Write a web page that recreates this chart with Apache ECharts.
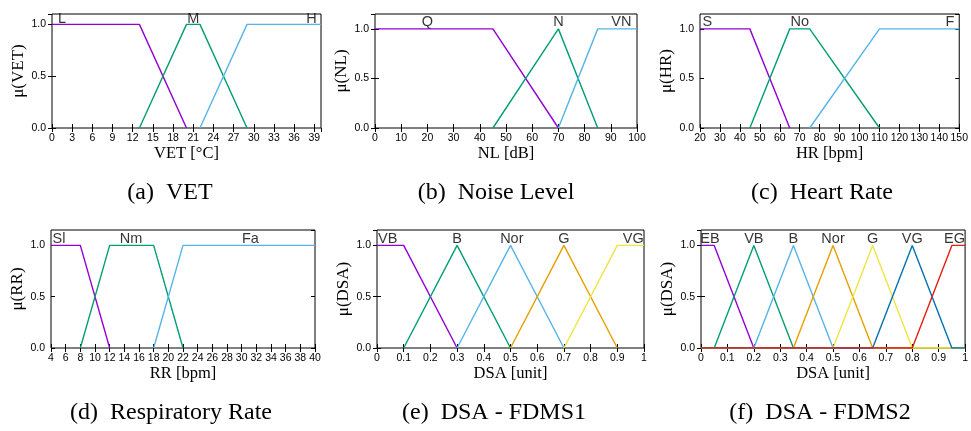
<!DOCTYPE html>
<html><head><meta charset="utf-8">
<script src="https://cdn.jsdelivr.net/npm/echarts@6/dist/echarts.min.js"></script>
<style>html,body{margin:0;padding:0;background:#fff}#c{width:971px;height:431px}</style>
</head><body><div id="c"></div>
<script>
// (a) VET
const vetL = [[0,1],[13,1],[20,0]];
const vetM = [[13,0],[20,1],[22,1],[29,0]];
const vetH = [[22,0],[29,1],[40,1]];
const vetTerms = [[1.5,1.055,'L'],[21,1.055,'M'],[38.6,1.055,'H']];
// (b) Noise Level
const nlQ = [[0,1],[45,1],[70,0]];
const nlN = [[45,0],[70,1],[85,0]];
const nlVN = [[70,0],[85,1],[100,1]];
const nlTerms = [[20,1.065,'Q'],[70,1.065,'N'],[94,1.065,'VN']];
// (c) Heart Rate
const hrS = [[20,1],[45,1],[65,0]];
const hrNo = [[45,0],[65,1],[75,1],[110,0]];
const hrF = [[75,0],[110,1],[150,1]];
const hrTerms = [[23.7,1.065,'S'],[70,1.065,'No'],[145.3,1.065,'F']];
// (d) Respiratory Rate
const rrSl = [[4,1],[8,1],[12,0]];
const rrNm = [[8,0],[12,1],[18,1],[22,0]];
const rrFa = [[18,0],[22,1],[40,1]];
const rrTerms = [[5.1,1.065,'Sl'],[14.9,1.065,'Nm'],[31.2,1.065,'Fa']];
// (e) DSA - FDMS1
const d1VB = [[0,1],[0.1,1],[0.3,0]];
const d1B = [[0.1,0],[0.3,1],[0.5,0]];
const d1Nor = [[0.3,0],[0.5,1],[0.7,0]];
const d1G = [[0.5,0],[0.7,1],[0.9,0]];
const d1VG = [[0.7,0],[0.9,1],[1,1]];
const d1Terms = [[0.04,1.065,'VB'],[0.3,1.065,'B'],[0.505,1.065,'Nor'],[0.7,1.065,'G'],[0.96,1.065,'VG']];
// (f) DSA - FDMS2
const d2EB = [[0,1],[0.05,1],[0.2,0],[1,0]];
const d2VB = [[0,0],[0.05,0],[0.2,1],[0.35,0],[1,0]];
const d2B = [[0,0],[0.2,0],[0.35,1],[0.5,0],[1,0]];
const d2Nor = [[0,0],[0.35,0],[0.5,1],[0.65,0],[1,0]];
const d2G = [[0,0],[0.5,0],[0.65,1],[0.8,0],[1,0]];
const d2VG = [[0,0],[0.65,0],[0.8,1],[0.95,0],[1,0]];
const d2EG = [[0,0],[0.8,0],[0.95,1],[1,1]];
const d2Terms = [[0.034,1.065,'EB'],[0.2,1.065,'VB'],[0.35,1.065,'B'],[0.5,1.065,'Nor'],[0.65,1.065,'G'],[0.8,1.065,'VG'],[0.96,1.065,'EG']];

const C = {purple:'#9400D3', green:'#009E73', sky:'#56B4E9', orange:'#E69F00', yellow:'#F0E442', blue:'#0072B2', red:'#E51E10'};

const panels = [
 {grid:{left:52,top:14,width:269,height:114}, xmin:0,xmax:40,xint:3,showMax:false, ymax:1.1, xname:'VET [°C]', yname:'μ(VET)', caption:'(a)  VET', cap:[170,193],
  series:[[vetL,C.purple],[vetM,C.green],[vetH,C.sky]], terms:vetTerms},
 {grid:{left:375,top:14,width:262,height:114}, xmin:0,xmax:100,xint:10,showMax:true, ymax:1.15, xname:'NL [dB]', yname:'μ(NL)', caption:'(b)  Noise Level', cap:[496,193],
  series:[[nlQ,C.purple],[nlN,C.green],[nlVN,C.sky]], terms:nlTerms},
 {grid:{left:700,top:14,width:262,height:114}, xmin:20,xmax:150,xint:10,showMax:true, ymax:1.15, xname:'HR [bpm]', yname:'μ(HR)', caption:'(c)  Heart Rate', cap:[822,193],
  series:[[hrS,C.purple],[hrNo,C.green],[hrF,C.sky]], terms:hrTerms},
 {grid:{left:51,top:230,width:264,height:118}, xmin:4,xmax:40,xint:2,showMax:true, ymax:1.15, xname:'RR [bpm]', yname:'μ(RR)', caption:'(d)  Respiratory Rate', cap:[171,413],
  series:[[rrSl,C.purple],[rrNm,C.green],[rrFa,C.sky]], terms:rrTerms},
 {grid:{left:377,top:230,width:267,height:118}, xmin:0,xmax:1,xint:0.1,showMax:true, ymax:1.15, xname:'DSA [unit]', yname:'μ(DSA)', caption:'(e)  DSA - FDMS1', cap:[494,413],
  series:[[d1VB,C.purple],[d1B,C.green],[d1Nor,C.sky],[d1G,C.orange],[d1VG,C.yellow]], terms:d1Terms},
 {grid:{left:701,top:230,width:269,height:118}, xmin:0,xmax:1,xint:0.1,showMax:true, ymax:1.15, xname:'DSA [unit]', yname:'μ(DSA)', caption:'(f)  DSA - FDMS2', cap:[820,413],
  series:[[d2EB,C.purple],[d2VB,C.green],[d2B,C.sky],[d2Nor,C.orange],[d2G,C.yellow],[d2VG,C.blue],[d2EG,C.red]], terms:d2Terms}
];

const SANS = 'Liberation Sans', SERIF = 'Liberation Serif';
const grids = [], xAxes = [], yAxes = [], series = [], graphics = [];
panels.forEach((p, i) => {
  grids.push(Object.assign({show:true, borderColor:'#000', borderWidth:1, backgroundColor:'transparent', containLabel:false}, p.grid));
  const tick = {show:true, inside:true, length:4, lineStyle:{color:'#000', width:1}};
  xAxes.push({type:'value', gridIndex:i, position:'bottom', min:p.xmin, max:p.xmax, interval:p.xint,
    axisLine:{show:false}, axisTick:tick, splitLine:{show:false},
    axisLabel:{fontFamily:SANS, fontSize:10.5, color:'#000', margin:5, showMaxLabel:p.showMax, showMinLabel:true, interval:0, hideOverlap:false},
    name:p.xname, nameLocation:'middle', nameGap:16, nameTextStyle:{fontFamily:SERIF, fontSize:16.5, color:'#000', verticalAlign:'top'}});
  xAxes.push({type:'value', gridIndex:i, position:'top', min:p.xmin, max:p.xmax, interval:p.xint,
    axisLine:{show:false}, axisTick:tick, splitLine:{show:false}, axisLabel:{show:false}});
  yAxes.push({type:'value', gridIndex:i, position:'left', min:0, max:p.ymax, interval:0.5,
    axisLine:{show:false}, axisTick:tick, splitLine:{show:false},
    axisLabel:{fontFamily:SANS, fontSize:10.5, color:'#000', margin:6, showMaxLabel:false, formatter:v=>v.toFixed(1)},
    name:p.yname, nameLocation:'middle', nameGap:18, nameTextStyle:{fontFamily:SERIF, fontSize:17, color:'#000'}});
  yAxes.push({type:'value', gridIndex:i, position:'right', min:0, max:p.ymax, interval:0.5,
    axisLine:{show:false}, axisTick:tick, splitLine:{show:false}, axisLabel:{show:false}});
  p.series.forEach(([d, col]) => {
    series.push({type:'line', xAxisIndex:2*i, yAxisIndex:2*i, data:d, showSymbol:false, symbol:'none',
      lineStyle:{color:col, width:1.4}, itemStyle:{color:col}, silent:true, animation:false});
  });
  series.push({type:'scatter', xAxisIndex:2*i, yAxisIndex:2*i, data:p.terms, symbolSize:1,
    itemStyle:{color:'rgba(0,0,0,0)'}, silent:true, animation:false,
    label:{show:true, position:'inside', formatter:q=>q.data[2], fontFamily:SANS, fontSize:14.5, color:'#000'}});
  graphics.push({type:'text', x:p.cap[0], y:p.cap[1],
    style:{text:p.caption, fontFamily:SERIF, fontSize:24, fill:'#000', align:'center', verticalAlign:'middle'}});
});

const chart = echarts.init(document.getElementById('c'), null, {renderer:'canvas'});
chart.setOption({animation:false, backgroundColor:'#fff', grid:grids, xAxis:xAxes, yAxis:yAxes, series:series, graphic:graphics});
</script></body></html>
